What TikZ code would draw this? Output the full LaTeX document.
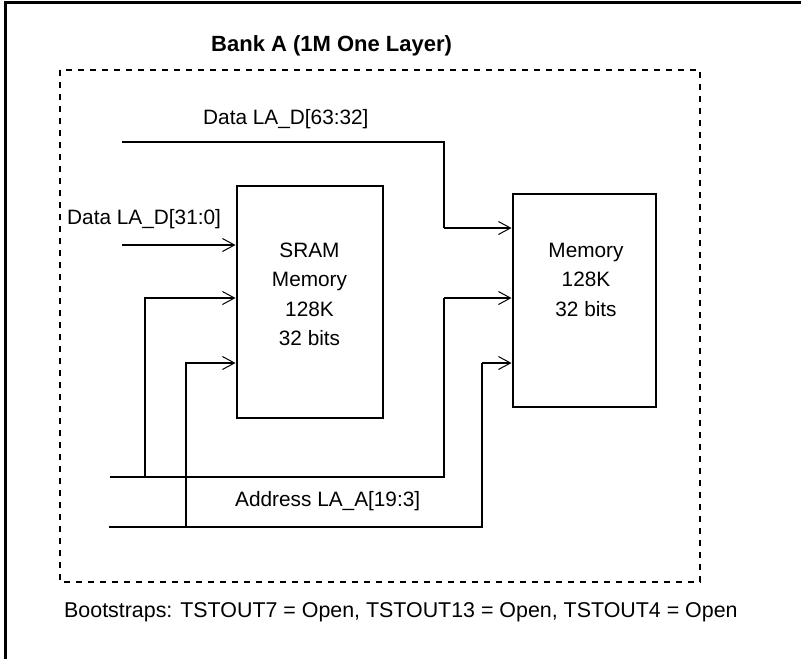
\documentclass[tikz,border=0pt]{standalone}
\usepackage{fontspec}
\setmainfont{Liberation Sans}
\usepackage{xcolor}
\usetikzlibrary{positioning,arrows.meta}

\begin{document}
\begin{tikzpicture}[x=1pt,y=-1pt,
every node/.style={font=\fontsize{20.8}{29.5}\selectfont},
membox/.style={rectangle,draw=black,line width=2pt,inner sep=0pt},
memtext/.style={align=center,inner sep=0pt},
label/.style={anchor=west,inner sep=0pt},
wire/.style={line width=2pt,-{Straight Barb[length=12pt,width=13pt,line width=1pt]}},
bus/.style={line width=2pt},
bank/.style={line width=2pt,dash pattern=on 6pt off 6pt}]
\useasboundingbox (0,0) rectangle (801,659);
\draw[line width=3pt] (5.5,659) -- (5.5,2) -- (801,2);
\draw[bank] (60,70) rectangle (700,582);
\node[label,font=\fontsize{22}{30}\selectfont\bfseries] (title) at (211,46) {Bank A (1M One Layer)};
% memories
\node[membox,minimum width=146pt,minimum height=232pt] (sram) at (309.5,301.5) {};
\node[memtext] (sram text) at ([yshift=7pt]sram.center) {SRAM\\Memory\\128K\\32 bits};
\node[membox,minimum width=143pt,minimum height=213pt] (mem) at (584,300.5) {};
\node[memtext] (mem text) at ([yshift=21pt,xshift=2pt]mem.center) {Memory\\128K\\32 bits};
% data
\node[label] (d63 label) at (203,119) {Data LA\_D[63:32]};
\node[label] (d0 label) at (67,219) {Data LA\_D[31:0]};
\coordinate (d63) at (122,142);
\coordinate (d0) at (122,245);
\coordinate (jog1) at (444,228);
\draw[bus] (d63) -| (jog1);
\draw[wire] (jog1) -- (jog1 -| mem.west);
\draw[wire] (d0) -- (d0 -| sram.west);
% address
\node[label] (addr label) at (235,501) {Address LA\_A[19:3]};
\coordinate (a1) at (110,477);
\coordinate (a2) at (109,527);
\coordinate (br1) at (145,477);
\coordinate (br2) at (186,527);
\coordinate (jog2) at (444,298);
\coordinate (jog3) at (482,363);
\draw[bus] (a1) -| (jog2);
\draw[wire] (jog2) -- (jog2 -| mem.west);
\draw[bus] (a2) -| (jog3);
\draw[wire] (jog3) -- (jog3 -| mem.west);
\draw[wire] (br1) |- (jog2 -| sram.west);
\draw[wire] (br2) |- (jog3 -| sram.west);
\node[label,font=\fontsize{21.4}{30}\selectfont] (boot) at (64,612) {Bootstraps: TSTOUT7 = Open, TSTOUT13 = Open, TSTOUT4 = Open};
\end{tikzpicture}
\end{document}
